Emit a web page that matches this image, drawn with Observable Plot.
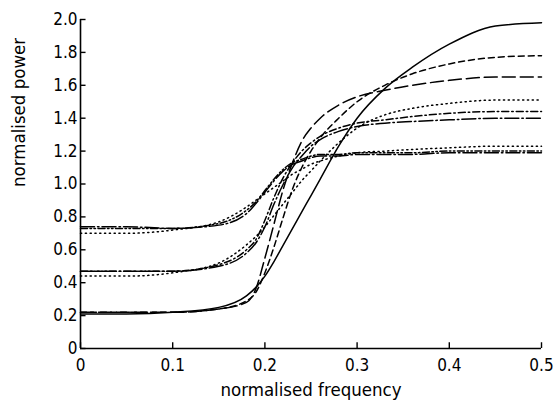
<!DOCTYPE html>
<html>
<head>
<meta charset="utf-8">
<script src="https://cdn.jsdelivr.net/npm/d3@7"></script>
<script src="https://cdn.jsdelivr.net/npm/@observablehq/plot@0.6"></script>
<style>
  html, body { margin: 0; padding: 0; background: white; }
</style>
</head>
<body>
<div id="chart"></div>
<script>
// normalised frequency sample points (shared by all curves)
const freq = [0, 0.05, 0.1, 0.15, 0.18, 0.19, 0.2, 0.21, 0.22, 0.23, 0.24, 0.25, 0.26, 0.28, 0.3, 0.33, 0.36, 0.4, 0.45, 0.5];

// group starting near 0.2
const solidA   = [0.21, 0.21, 0.22, 0.25, 0.32, 0.37, 0.44, 0.53, 0.63, 0.73, 0.83, 0.93, 1.03, 1.23, 1.40, 1.58, 1.71, 1.85, 1.96, 1.98];
const dashA    = [0.22, 0.22, 0.22, 0.24, 0.29, 0.34, 0.46, 0.62, 0.80, 0.97, 1.10, 1.20, 1.28, 1.40, 1.50, 1.60, 1.67, 1.73, 1.77, 1.78];
const longDashA= [0.22, 0.22, 0.22, 0.24, 0.28, 0.36, 0.55, 0.76, 0.97, 1.13, 1.26, 1.34, 1.40, 1.48, 1.53, 1.57, 1.60, 1.63, 1.65, 1.65];
// group starting near 0.47
const dotB     = [0.44, 0.44, 0.46, 0.52, 0.63, 0.68, 0.74, 0.81, 0.88, 0.95, 1.02, 1.08, 1.14, 1.25, 1.34, 1.42, 1.46, 1.49, 1.51, 1.51];
const dashDotB = [0.47, 0.47, 0.47, 0.51, 0.60, 0.66, 0.78, 0.92, 1.04, 1.13, 1.20, 1.25, 1.29, 1.34, 1.37, 1.39, 1.41, 1.43, 1.44, 1.44];
const longDashDotB = [0.47, 0.47, 0.47, 0.50, 0.58, 0.64, 0.74, 0.88, 1.00, 1.10, 1.17, 1.23, 1.27, 1.32, 1.35, 1.37, 1.38, 1.39, 1.40, 1.40];
// group starting near 0.72
const dotC     = [0.70, 0.70, 0.72, 0.77, 0.86, 0.90, 0.94, 0.98, 1.02, 1.06, 1.09, 1.12, 1.14, 1.17, 1.19, 1.20, 1.21, 1.22, 1.23, 1.23];
const dashDotDotC = [0.73, 0.73, 0.73, 0.76, 0.84, 0.89, 0.96, 1.03, 1.09, 1.13, 1.15, 1.17, 1.18, 1.18, 1.19, 1.19, 1.19, 1.20, 1.20, 1.20];
const longDashDotC = [0.74, 0.74, 0.73, 0.75, 0.82, 0.88, 0.95, 1.02, 1.08, 1.12, 1.14, 1.16, 1.17, 1.17, 1.18, 1.18, 1.18, 1.19, 1.19, 1.19];

const xTicks = [0, 0.1, 0.2, 0.3, 0.4, 0.5];
const xTickLabels = ["0", "0.1", "0.2", "0.3", "0.4", "0.5"];
const yTicks = [0, 0.2, 0.4, 0.6, 0.8, 1.0, 1.2, 1.4, 1.6, 1.8, 2.0];
const yTickLabels = ["0", "0.2", "0.4", "0.6", "0.8", "1.0", "1.2", "1.4", "1.6", "1.8", "2.0"];
const xTitle = "normalised frequency";
const yTitle = "normalised power";

const seriesList = [
  {values: solidA, dash: null},
  {values: dashA, dash: "6,4"},
  {values: longDashA, dash: "13,5"},
  {values: dotB, dash: "1.2,3.6"},
  {values: dashDotB, dash: "7,3,1.5,3"},
  {values: longDashDotB, dash: "14,3,1.5,3"},
  {values: dotC, dash: "1.2,3.6"},
  {values: dashDotDotC, dash: "7,2.5,1.5,2.5,1.5,2.5"},
  {values: longDashDotC, dash: "14,3,1.5,3"}
];

const font = "'DejaVu Sans Condensed', 'DejaVu Sans', sans-serif";

const lineMarks = seriesList.map(s =>
  Plot.line(freq.map((f, i) => ({f, p: s.values[i]})), {
    x: "f", y: "p", curve: "monotone-x",
    stroke: "black", strokeWidth: 1.5,
    strokeDasharray: s.dash || undefined
  })
);

const chart = Plot.plot({
  width: 555,
  height: 400,
  marginLeft: 80,
  marginRight: 14,
  marginTop: 19,
  marginBottom: 52,
  x: {domain: [0, 0.5]},
  y: {domain: [0, 2]},
  style: {fontFamily: font, fontSize: "17px", background: "white", color: "black", overflow: "visible"},
  marks: [
    Plot.axisX(xTicks, {
      tickSize: 0, tickPadding: 10,
      tickFormat: (d, i) => xTickLabels[i],
      label: null,
      fontSize: 17
    }),
    Plot.axisY(yTicks, {
      tickSize: 0, tickPadding: 3,
      tickFormat: (d, i) => yTickLabels[i],
      label: null,
      fontSize: 17
    }),
    Plot.text([xTitle], {text: d => d, frameAnchor: "bottom", lineAnchor: "middle", dy: 42, fontSize: 18.5, fill: "black"}),
    Plot.text([yTitle], {text: d => d, frameAnchor: "left", lineAnchor: "middle", rotate: -90, dx: -61, dy: 3, fontSize: 18.5, fill: "black"}),
    Plot.ruleX(xTicks, {x: d => d, y1: 0, y2: 0.035, stroke: "black", strokeWidth: 1.4}),
    Plot.ruleY(yTicks, {y: d => d, x1: 0, x2: 0.006, stroke: "black", strokeWidth: 1.4}),
    Plot.ruleX([0], {stroke: "black", strokeWidth: 1.6}),
    Plot.ruleY([0], {stroke: "black", strokeWidth: 1.6}),
    ...lineMarks
  ]
});

document.getElementById("chart").appendChild(chart);
</script>
</body>
</html>
